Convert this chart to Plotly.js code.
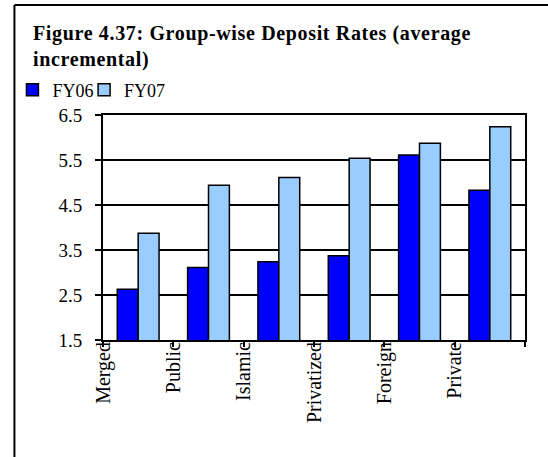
<!DOCTYPE html>
<html>
<head>
<meta charset="utf-8">
<script src="https://cdn.plot.ly/plotly-3.0.1.min.js"></script>
<style>
html,body{margin:0;padding:0;background:#fff;}
#chart{width:548px;height:457px;}
.gtitle{letter-spacing:0.65px;}
</style>
</head>
<body>
<div id="chart"></div>
<script>
// Data
var categories = ['Merged', 'Public', 'Islamic', 'Privatized', 'Foreign', 'Private'];
var fy06 = [2.63, 3.11, 3.24, 3.37, 5.61, 4.83];
var fy07 = [3.87, 4.94, 5.11, 5.54, 5.87, 6.24];
var seriesNames = ['FY06', 'FY07'];
var yTickVals = [1.5, 2.5, 3.5, 4.5, 5.5, 6.5];

var xPos = categories.map(function (c, i) { return i; });
// Labels in the reference sit on the category boundaries
var boundaryVals = categories.map(function (c, i) { return i - 0.5; }).concat([categories.length - 0.5]);
var boundaryText = categories.concat(['']);

var serif = 'Liberation Serif, Times New Roman, serif';

var traces = [
  {
    type: 'bar', name: seriesNames[0], x: xPos, y: fy06,
    legend: 'legend',
    customdata: categories,
    hovertemplate: '%{customdata}: %{y}<extra>FY06</extra>',
    marker: {color: '#0000FF', line: {color: '#000000', width: 1.5}}
  },
  {
    type: 'bar', name: seriesNames[1], x: xPos, y: fy07,
    legend: 'legend2',
    customdata: categories,
    hovertemplate: '%{customdata}: %{y}<extra>FY07</extra>',
    marker: {color: '#99CCFF', line: {color: '#000000', width: 1.5}}
  }
];

function legendAt(px) {
  return {
    orientation: 'h',
    x: (px - 101) / 424, xanchor: 'left',
    y: (340 - 90) / 225, yanchor: 'middle',
    font: {family: serif, size: 18, color: '#000000'},
    bgcolor: 'rgba(0,0,0,0)', borderwidth: 0,
    itemwidth: 30
  };
}

var layout = {
  width: 548, height: 457,
  margin: {l: 101, r: 23, t: 115, b: 117},
  paper_bgcolor: '#ffffff', plot_bgcolor: '#ffffff',
  font: {family: serif, size: 19, color: '#000000'},
  title: {
    text: '<b>Figure 4.37: Group-wise Deposit Rates (average<br>incremental)</b>',
    font: {family: serif, size: 20, color: '#000000'},
    x: 33 / 548, xanchor: 'left', xref: 'container',
    y: 1 - 40 / 457, yanchor: 'top', yref: 'container'
  },
  showlegend: true,
  legend: legendAt(10),
  legend2: legendAt(82),
  barmode: 'group',
  bargap: 0.406,
  bargroupgap: 0,
  xaxis: {
    type: 'linear',
    range: [-0.5, categories.length - 0.5],
    tickmode: 'array', tickvals: boundaryVals, ticktext: boundaryText,
    tickangle: -90,
    ticks: 'outside', ticklen: 5, tickwidth: 2, tickcolor: '#000000',
    ticklabelstandoff: -13,
    showgrid: false, zeroline: false,
    showline: true, linecolor: '#000000', linewidth: 2, mirror: true,
    tickfont: {family: serif, size: 20, color: '#000000'},
    fixedrange: true
  },
  yaxis: {
    range: [1.5, 6.5],
    tickmode: 'array', tickvals: yTickVals,
    ticktext: yTickVals.map(function (v) { return v.toFixed(1); }),
    ticks: 'outside', ticklen: 6, tickwidth: 2, tickcolor: '#000000',
    ticklabelstandoff: 9,
    showgrid: true, gridcolor: '#000000', gridwidth: 1.5,
    zeroline: false,
    showline: true, linecolor: '#000000', linewidth: 2, mirror: true,
    tickfont: {family: serif, size: 19, color: '#000000'},
    fixedrange: true
  },
  shapes: [
    // outer frame: left and top edges of the cropped chart border
    {type: 'line', xref: 'paper', yref: 'paper',
     x0: (12 - 101) / 424, x1: (12 - 101) / 424,
     y0: (340 - 5) / 225, y1: (340 - 460) / 225,
     line: {color: '#000000', width: 2}},
    {type: 'line', xref: 'paper', yref: 'paper',
     x0: (12 - 101) / 424, x1: (550 - 101) / 424,
     y0: (340 - 5) / 225, y1: (340 - 5) / 225,
     line: {color: '#000000', width: 2}}
  ]
};

Plotly.newPlot('chart', traces, layout, {displayModeBar: false, staticPlot: false});
</script>
</body>
</html>
